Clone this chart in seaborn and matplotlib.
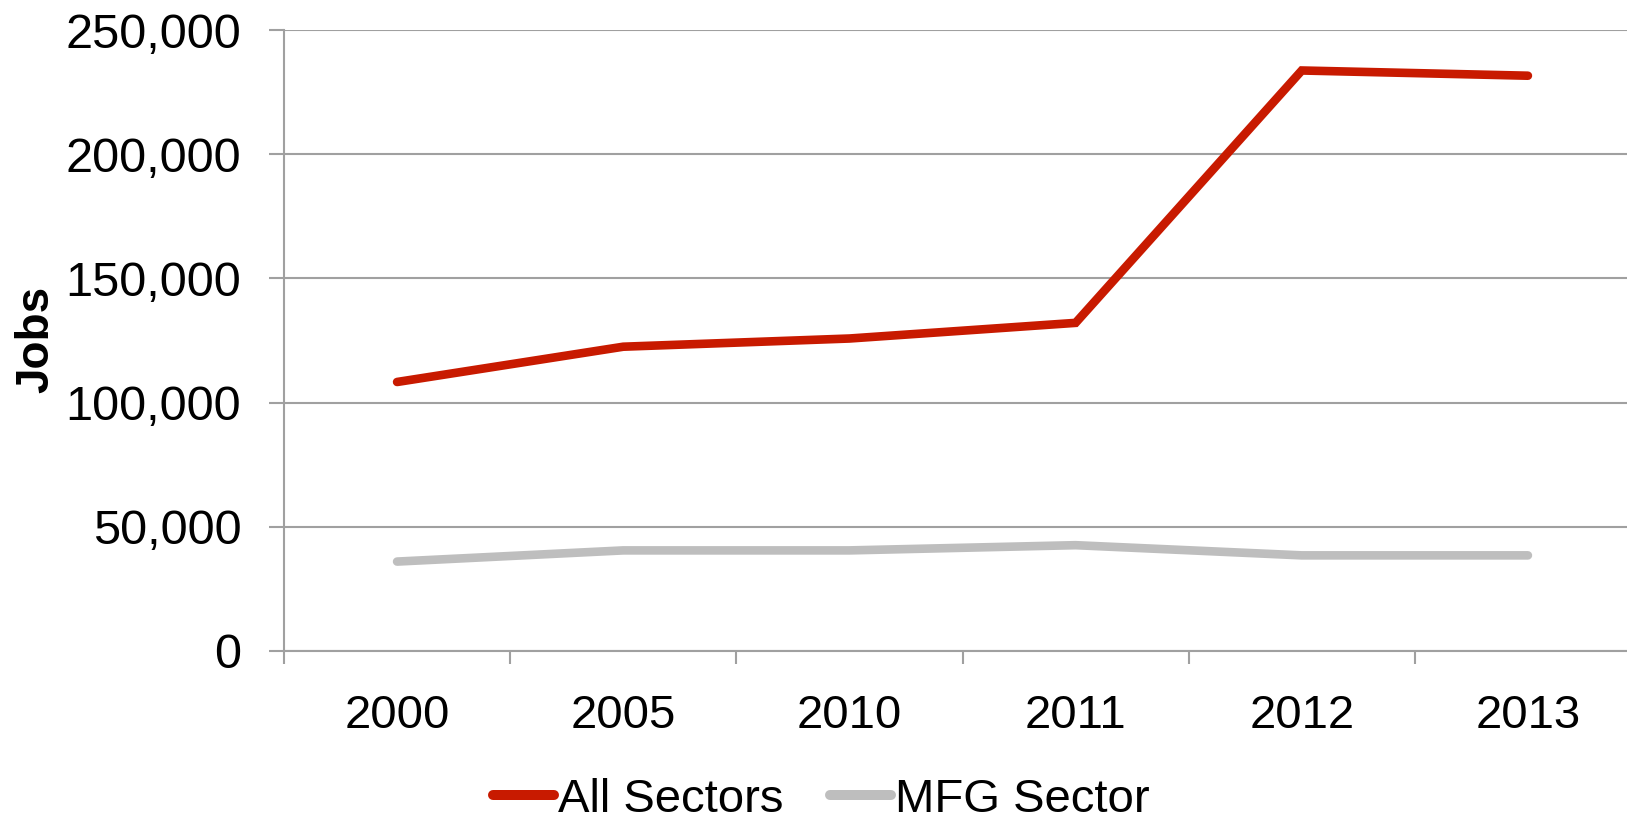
import matplotlib
matplotlib.use("Agg")
import matplotlib.pyplot as plt
import seaborn as sns
import pandas as pd
import numpy as np
from matplotlib.ticker import FuncFormatter, FixedLocator

years = ["2000", "2005", "2010", "2011", "2012", "2013"]
all_sectors = [108300, 122500, 125800, 132100, 233700, 231600]
mfg_sector = [36000, 40500, 40500, 42600, 38500, 38500]
series_names = ["All Sectors", "MFG Sector"]
y_ticks = [0, 50000, 100000, 150000, 200000, 250000]

sns.set_theme(style="white")
plt.rcParams['font.family'] = ['Liberation Sans', 'DejaVu Sans']
plt.rcParams['text.color'] = 'black'

df = pd.DataFrame({
    "pos": list(range(len(years))) * 2,
    "Jobs": all_sectors + mfg_sector,
    "Series": [series_names[0]] * len(years) + [series_names[1]] * len(years),
})

fig = plt.figure(figsize=(16.27, 8.19), dpi=100)
ax = fig.add_axes([284 / 1627, 1 - 651 / 819, 1357 / 1627, 621 / 819])

palette = {"All Sectors": "#C81A00", "MFG Sector": "#BEBEBE"}
sns.lineplot(data=df, x="pos", y="Jobs", hue="Series", palette=palette,
             linewidth=6.2, ax=ax, legend=True, solid_capstyle="round",
             solid_joinstyle="miter")

ax.set_xlim(-0.5, len(years) - 0.5)
ax.set_ylim(0, 250000)
ax.yaxis.set_major_locator(FixedLocator(y_ticks))
ax.yaxis.set_major_formatter(FuncFormatter(lambda v, p: f"{int(v):,}"))
ax.set_xticks(range(len(years)))
ax.set_xticklabels(years)
ax.set_xticks(np.arange(-0.5, len(years), 1.0), minor=True)

gc = "#A0A0A0"
ax.grid(axis="y", color=gc, linewidth=1.5)
ax.set_axisbelow(True)
for s in ["top", "right"]:
    ax.spines[s].set_visible(False)
for s in ["left", "bottom"]:
    ax.spines[s].set_color(gc)
    ax.spines[s].set_linewidth(1.5)

ax.tick_params(axis="y", which="major", length=10.8, width=1.5, color=gc,
               labelsize=35, pad=20, left=True, labelcolor="black")
ax.tick_params(axis="x", which="major", length=0, labelsize=34, pad=31,
               labelcolor="black")
ax.tick_params(axis="x", which="minor", length=9.4, width=1.5, color=gc,
               bottom=True)

ax.set_xlabel("")
ax.set_ylabel("Jobs", fontsize=33, fontweight="bold", color="black")
ax.yaxis.set_label_coords(-0.166, 0.501)

handles, labels = ax.get_legend_handles_labels()
ax.get_legend().remove()
leg = fig.legend(handles, labels, loc="center", bbox_to_anchor=(821 / 1627, 1 - 800 / 819),
                 ncol=2, frameon=False, fontsize=34, handlelength=1.3,
                 handletextpad=0.08, columnspacing=0.98)
for l in leg.get_lines():
    l.set_linewidth(7.2)
    l.set_solid_capstyle("round")
for t in leg.get_texts():
    t.set_color("black")

fig.savefig("out.png", dpi=100)
